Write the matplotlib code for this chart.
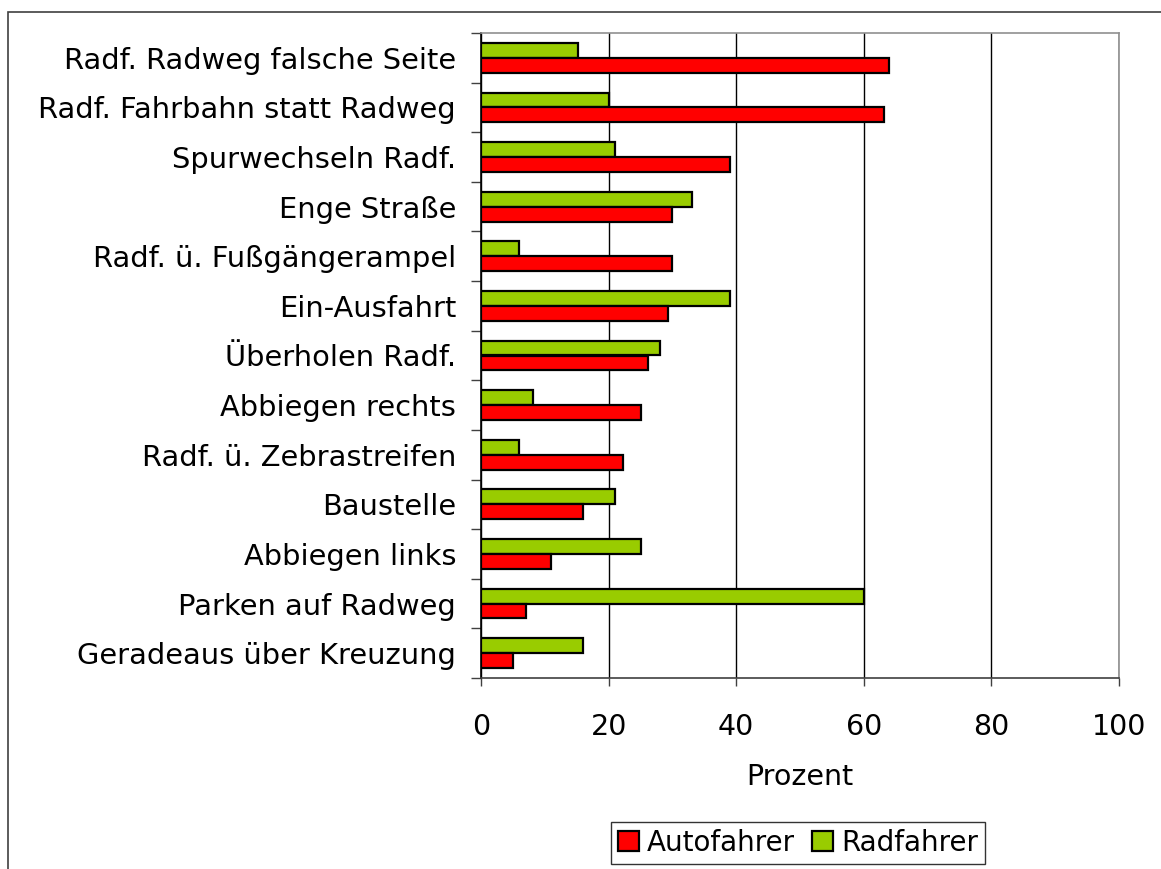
import numpy as np
import matplotlib.pyplot as plt
from matplotlib.patches import Rectangle

plt.rcParams['font.family'] = ['DejaVu Sans']

# Kategorien (von oben nach unten)
kategorien = ['Radf. Radweg falsche Seite', 'Radf. Fahrbahn statt Radweg', 'Spurwechseln Radf.',
              'Enge Straße', 'Radf. ü. Fußgängerampel', 'Ein-Ausfahrt', 'Überholen Radf.',
              'Abbiegen rechts', 'Radf. ü. Zebrastreifen', 'Baustelle', 'Abbiegen links',
              'Parken auf Radweg', 'Geradeaus über Kreuzung']
autofahrer = [64, 63.2, 39, 30, 30, 29.3, 26.1, 25, 22.3, 16, 10.9, 7, 5]
radfahrer = [15.2, 20, 21, 33.1, 5.9, 39.1, 28.1, 8.2, 5.9, 21, 25, 60, 16]
x_ticks = [0, 20, 40, 60, 80, 100]

fig = plt.figure(figsize=(11.61, 8.69), dpi=100)
W, H = 1161, 869
ax = fig.add_axes([481 / W, 1 - 678 / H, (1119 - 481) / W, (678 - 33) / H])

# Rahmen um das ganze Diagramm (rechts und unten abgeschnitten)
fig.patches.append(Rectangle((8 / W, -0.1), 1.2, 1 - 12 / H + 0.1, transform=fig.transFigure,
                             fill=False, edgecolor='#404040', linewidth=1.2))

y = np.arange(len(kategorien))
h = 0.3
ax.barh(y - h / 2, radfahrer, height=h, color='#99cc00', edgecolor='black', linewidth=1.6,
        label='Radfahrer', zorder=3)
ax.barh(y + h / 2, autofahrer, height=h, color='#ff0000', edgecolor='black', linewidth=1.6,
        label='Autofahrer', zorder=3)

ax.set_xlim(0, 100)
ax.set_ylim(len(kategorien) - 0.5, -0.5)
ax.set_xticks(x_ticks)
ax.set_xticklabels([str(v) for v in x_ticks], fontsize=20.5)
ax.set_yticks(y)
ax.set_yticklabels(kategorien, fontsize=20.8)
ax.tick_params(axis='y', length=0, pad=18)
ax.set_yticks(np.arange(len(kategorien) + 1) - 0.5, minor=True)
ax.tick_params(axis='y', which='minor', length=7, width=1, color='#404040')
ax.tick_params(axis='x', length=6, width=1, pad=19, color='#404040')
ax.xaxis.grid(True, color='black', linewidth=1, zorder=0)
ax.set_xlabel('Prozent', fontsize=20.5, labelpad=16)

ax.spines['left'].set_color('black')
ax.spines['bottom'].set_color('#404040')
ax.spines['top'].set_color('#909090')
ax.spines['right'].set_color('#909090')
for s in ax.spines.values():
    s.set_linewidth(1.2)

handles, labels = ax.get_legend_handles_labels()
leg = fig.legend(handles[::-1], labels[::-1], loc='center', bbox_to_anchor=(798 / W, 1 - 843 / H),
                 ncol=2, fontsize=20, frameon=True, fancybox=False, edgecolor='black',
                 handlelength=0.75, handleheight=0.75, handletextpad=0.3, columnspacing=0.6,
                 borderpad=0.25)
leg.get_frame().set_linewidth(1)

fig.savefig('out.png', dpi=100)
